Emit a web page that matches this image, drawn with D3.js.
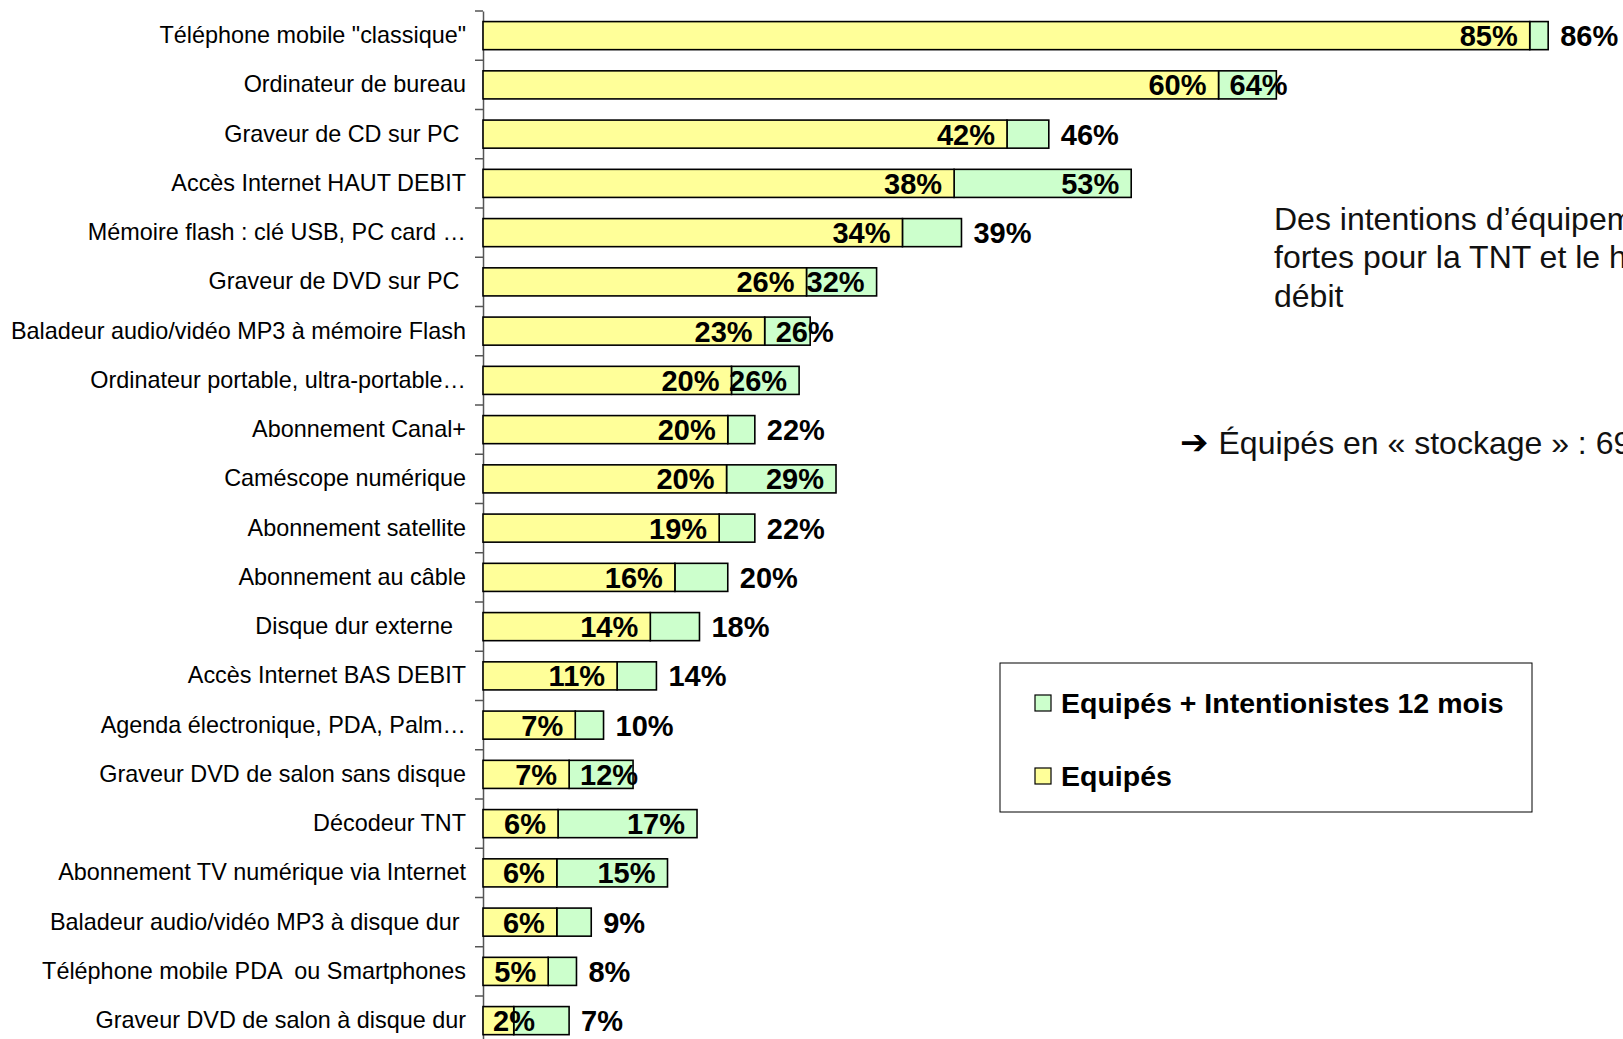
<!DOCTYPE html>
<html>
<head>
<meta charset="utf-8">
<script src="https://cdn.jsdelivr.net/npm/d3@7"></script>
<style>
  html, body { margin: 0; padding: 0; background: #fff; overflow: hidden; }
  svg { display: block; font-family: Arial, "Liberation Sans", sans-serif; }
</style>
</head>
<body>
<svg id="chart" width="1623" height="1039"></svg>
<script>
const categories = [
  'Téléphone mobile "classique"',
  "Ordinateur de bureau",
  "Graveur de CD sur PC\u00A0",
  "Accès Internet HAUT DEBIT",
  "Mémoire flash : clé USB, PC card …",
  "Graveur de DVD sur PC\u00A0",
  "Baladeur audio/vidéo MP3 à mémoire Flash",
  "Ordinateur portable, ultra-portable…",
  "Abonnement Canal+",
  "Caméscope numérique",
  "Abonnement satellite",
  "Abonnement au câble",
  "Disque dur externe\u00A0\u00A0",
  "Accès Internet BAS DEBIT",
  "Agenda électronique, PDA, Palm…",
  "Graveur DVD de salon sans disque",
  "Décodeur TNT",
  "Abonnement TV numérique via Internet",
  "Baladeur audio/vidéo MP3 à disque dur\u00A0",
  "Téléphone mobile PDA  ou Smartphones",
  "Graveur DVD de salon à disque dur"
];
const equipes = [85.1, 59.8, 42.6, 38.3, 34.1, 26.3, 22.9, 20.2, 19.9, 19.8, 19.2, 15.6, 13.6, 10.9, 7.5, 7.0, 6.1, 6.0, 6.0, 5.3, 2.5];
const total   = [86.6, 64.5, 46.0, 52.7, 38.9, 32.0, 26.6, 25.7, 22.1, 28.7, 22.1, 19.9, 17.6, 14.1, 9.8, 12.2, 17.4, 15.0, 8.8, 7.6, 7.0];
const equipesLabels = ["85%","60%","42%","38%","34%","26%","23%","20%","20%","20%","19%","16%","14%","11%","7%","7%","6%","6%","6%","5%","2%"];
const totalLabels   = ["86%","64%","46%","53%","39%","32%","26%","26%","22%","29%","22%","20%","18%","14%","10%","12%","17%","15%","9%","8%","7%"];
const totalLabelMode = ["out","base","out","in","out","in","base","in","out","in","out","out","out","out","out","base","in","in","out","out","out"];
const legendItems = ["Equipés + Intentionistes 12 mois", "Equipés"];
const noteLines = ["Des intentions d’équipement", "fortes pour la TNT et le haut", "débit"];
const noteStockage = "Équipés en « stockage » : 69%";

const YELLOW = "#FFFF99", GREEN = "#CCFFCC";
const svg = d3.select("#chart");

const x0 = 483;
const x = d3.scaleLinear().domain([0, 100]).range([x0, x0 + 1230]);
const step = 49.25;
const y = d3.scaleBand().domain(categories)
  .range([11, 11 + categories.length * step])
  .paddingInner(0.43).paddingOuter(0.215);

// Category labels
const axis = d3.axisLeft(y).tickSize(0).tickPadding(17).tickSizeOuter(0);
const gAxis = svg.append("g").attr("transform", `translate(${x0},0)`).call(axis);
gAxis.select(".domain").attr("stroke", "#555").attr("stroke-width", 1.5);
gAxis.selectAll("text").attr("font-size", 23.4).attr("fill", "#000")
  .attr("font-family", 'Arial, "Liberation Sans", sans-serif')
  .style("white-space", "pre");

// Boundary ticks
const bounds = d3.range(categories.length + 1).map(i => y.range()[0] + i * step);
svg.append("g").selectAll("line").data(bounds).join("line")
  .attr("x1", x0 - 8).attr("x2", x0).attr("y1", d => d).attr("y2", d => d)
  .attr("stroke", "#555").attr("stroke-width", 1.5);

const rows = categories.map((c, i) => ({c, e: equipes[i], t: total[i], el: equipesLabels[i], tl: totalLabels[i], m: totalLabelMode[i]}));

const gBars = svg.append("g");
gBars.selectAll("rect.g").data(rows).join("rect").attr("class", "g")
  .attr("x", d => x(d.e)).attr("width", d => x(d.t) - x(d.e))
  .attr("y", d => y(d.c)).attr("height", y.bandwidth())
  .attr("fill", GREEN).attr("stroke", "#000").attr("stroke-width", 1.6);
gBars.selectAll("rect.y").data(rows).join("rect").attr("class", "y")
  .attr("x", x(0)).attr("width", d => x(d.e) - x(0))
  .attr("y", d => y(d.c)).attr("height", y.bandwidth())
  .attr("fill", YELLOW).attr("stroke", "#000").attr("stroke-width", 1.6);

// labels
const gLab = svg.append("g").attr("font-weight", "bold").attr("font-size", 29).attr("fill", "#000");
gLab.selectAll("text.el").data(rows).join("text").attr("class", "el")
  .attr("y", d => y(d.c) + y.bandwidth() / 2).attr("dy", "0.36em")
  .text(d => d.el)
  .each(function(d) {
    const w = this.getComputedTextLength();
    let xe = x(d.e) - 12;
    if (xe - w < x0 + 10) xe = x0 + 10 + w;
    d3.select(this).attr("x", xe).attr("text-anchor", "end");
  });
gLab.selectAll("text.tl").data(rows).join("text").attr("class", "tl")
  .attr("y", d => y(d.c) + y.bandwidth() / 2).attr("dy", "0.36em")
  .text(d => d.tl)
  .attr("x", d => d.m === "in" ? x(d.t) - 12 : d.m === "out" ? x(d.t) + 12 : x(d.e) + 11)
  .attr("text-anchor", d => d.m === "in" ? "end" : "start");

// Legend
const lg = svg.append("g");
lg.append("rect").attr("x", 1000).attr("y", 663).attr("width", 532).attr("height", 149)
  .attr("fill", "#fff").attr("stroke", "#000").attr("stroke-width", 1);
const lgColors = [GREEN, YELLOW];
const lgY = [703, 776];
legendItems.forEach((t, i) => {
  lg.append("rect").attr("x", 1035).attr("y", lgY[i] - 8).attr("width", 16).attr("height", 16)
    .attr("fill", lgColors[i]).attr("stroke", "#000").attr("stroke-width", 1.2);
  lg.append("text").attr("x", 1061).attr("y", lgY[i]).attr("dy", "0.36em")
    .attr("font-size", 28.5).attr("font-weight", "bold").text(t);
});

// Notes
const noteY = [218, 256, 295];
const gn = svg.append("g").attr("font-size", 32).attr("fill", "#111");
noteLines.forEach((t, i) => {
  gn.append("text").attr("x", 1274).attr("y", noteY[i]).attr("dy", "0.36em").text(t);
});
const st = gn.append("text").attr("x", 1180).attr("y", 442).attr("dy", "0.36em");
st.append("tspan").attr("font-family", '"DejaVu Sans", sans-serif').attr("font-weight", "bold")
  .attr("font-size", 34).attr("fill", "#000").text("➔");
st.append("tspan").attr("dx", 10).text(noteStockage);
</script>
</body>
</html>
